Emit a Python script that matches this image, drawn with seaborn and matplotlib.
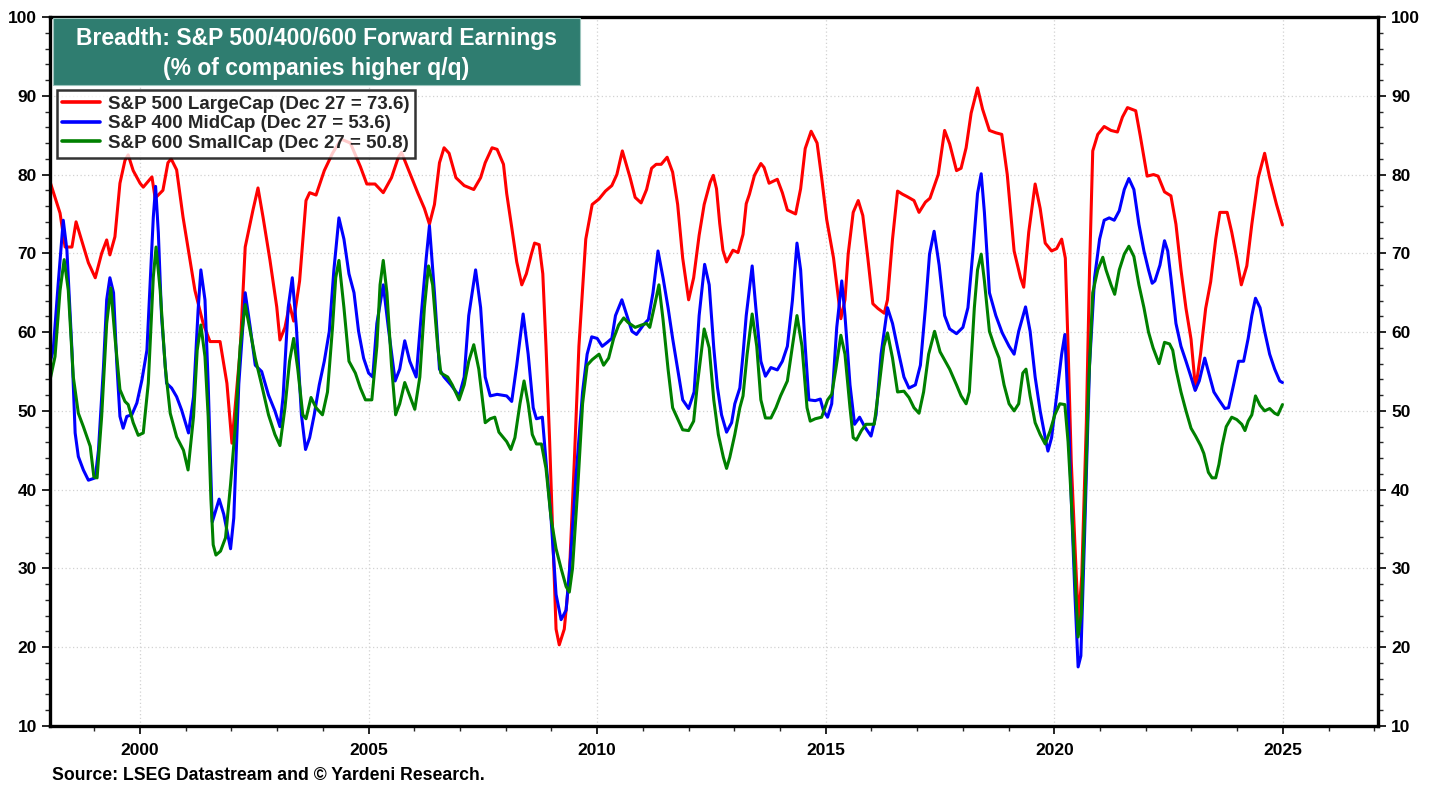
import numpy as np
import pandas as pd
import matplotlib
matplotlib.use("Agg")
import matplotlib.pyplot as plt
import seaborn as sns
from matplotlib.patches import Rectangle
from matplotlib.ticker import MultipleLocator

# ---------------- data ----------------
large_years = [1998.03, 1998.25, 1998.36, 1998.51, 1998.60, 1998.87, 1999.02, 1999.16, 1999.27, 1999.34,
               1999.45, 1999.56, 1999.67, 1999.74, 1999.85, 2000.00, 2000.07, 2000.26, 2000.33, 2000.50,
               2000.61, 2000.68, 2000.80, 2000.94, 2001.20, 2001.38, 2001.53, 2001.75, 2001.90, 2002.01,
               2002.19, 2002.30, 2002.47, 2002.58, 2002.69, 2002.84, 2002.99, 2003.06, 2003.17, 2003.27,
               2003.36, 2003.49, 2003.63, 2003.71, 2003.85, 2004.03, 2004.21, 2004.40, 2004.60, 2004.82,
               2004.96, 2005.14, 2005.32, 2005.50, 2005.65, 2005.72, 2005.94, 2006.08, 2006.22, 2006.33,
               2006.44, 2006.55, 2006.65, 2006.76, 2006.91, 2007.09, 2007.30, 2007.45, 2007.55, 2007.70,
               2007.81, 2007.95, 2008.02, 2008.13, 2008.24, 2008.35, 2008.45, 2008.56, 2008.63, 2008.73,
               2008.81, 2008.88, 2008.96, 2009.03, 2009.10, 2009.17, 2009.28, 2009.39, 2009.50, 2009.60,
               2009.75, 2009.89, 2010.04, 2010.18, 2010.32, 2010.43, 2010.55, 2010.72, 2010.83, 2010.96,
               2011.08, 2011.19, 2011.29, 2011.40, 2011.53, 2011.65, 2011.76, 2011.87, 2012.00, 2012.11,
               2012.23, 2012.34, 2012.47, 2012.54, 2012.61, 2012.68, 2012.75, 2012.83, 2012.97, 2013.08,
               2013.19, 2013.26, 2013.33, 2013.44, 2013.58, 2013.65, 2013.76, 2013.94, 2014.05, 2014.16,
               2014.34, 2014.45, 2014.55, 2014.68, 2014.81, 2014.91, 2015.02, 2015.17, 2015.27, 2015.33,
               2015.42, 2015.49, 2015.60, 2015.71, 2015.81, 2015.92, 2016.03, 2016.14, 2016.28, 2016.35,
               2016.46, 2016.57, 2016.68, 2016.78, 2016.93, 2017.04, 2017.18, 2017.28, 2017.46, 2017.60,
               2017.71, 2017.86, 2017.96, 2018.07, 2018.18, 2018.32, 2018.43, 2018.58, 2018.72, 2018.85,
               2018.97, 2019.12, 2019.26, 2019.33, 2019.44, 2019.58, 2019.69, 2019.80, 2019.94, 2020.05,
               2020.16, 2020.24, 2020.30, 2020.37, 2020.48, 2020.53, 2020.60, 2020.70, 2020.77, 2020.84,
               2020.95, 2021.09, 2021.24, 2021.38, 2021.49, 2021.60, 2021.78, 2021.88, 2022.03, 2022.17,
               2022.27, 2022.41, 2022.55, 2022.66, 2022.77, 2022.88, 2022.99, 2023.09, 2023.20, 2023.31,
               2023.42, 2023.53, 2023.62, 2023.78, 2023.88, 2023.99, 2024.09, 2024.21, 2024.32, 2024.46,
               2024.60, 2024.71, 2024.86, 2024.99]
large_vals = [79.1, 75.1, 70.8, 70.8, 74.0, 68.8, 66.9, 70.0, 71.7, 69.8,
              72.1, 78.9, 81.8, 82.5, 80.5, 78.9, 78.4, 79.7, 77.0, 78.0,
              81.5, 82.0, 80.6, 74.6, 65.3, 61.1, 58.8, 58.8, 53.5, 45.9,
              57.7, 70.8, 75.5, 78.3, 74.6, 69.2, 63.2, 59.0, 60.6, 63.5,
              61.4, 66.5, 76.7, 77.7, 77.4, 80.5, 82.7, 84.5, 84.0, 81.0,
              78.8, 78.8, 77.7, 79.6, 82.2, 82.8, 79.6, 77.6, 75.7, 73.7,
              76.2, 81.5, 83.4, 82.7, 79.6, 78.6, 78.1, 79.6, 81.5, 83.4,
              83.2, 81.3, 77.6, 73.3, 68.9, 66.0, 67.4, 69.9, 71.3, 71.1,
              67.4, 58.2, 46.1, 33.9, 22.3, 20.3, 22.3, 29.1, 43.7, 58.2,
              71.8, 76.2, 76.9, 77.9, 78.6, 80.0, 83.0, 79.6, 77.1, 76.4,
              78.1, 80.8, 81.3, 81.3, 82.2, 80.3, 76.2, 69.4, 64.1, 66.9,
              72.3, 76.2, 79.0, 79.9, 78.2, 73.8, 70.4, 68.9, 70.4, 70.1,
              72.4, 76.3, 77.5, 79.9, 81.4, 80.9, 78.9, 79.4, 77.7, 75.5,
              75.0, 78.2, 83.3, 85.5, 84.0, 79.6, 74.3, 69.4, 64.6, 61.7,
              64.1, 69.9, 75.2, 76.7, 74.8, 69.4, 63.6, 63.0, 62.4, 64.1,
              71.8, 77.9, 77.5, 77.2, 76.7, 75.2, 76.5, 77.0, 80.0, 85.6,
              83.9, 80.5, 80.8, 83.4, 87.8, 91.0, 88.3, 85.6, 85.3, 85.1,
              80.0, 70.3, 66.9, 65.7, 72.7, 78.8, 75.7, 71.3, 70.3, 70.6,
              71.8, 69.4, 58.2, 43.6, 29.1, 23.3, 29.1, 48.5, 67.9, 83.0,
              85.1, 86.1, 85.6, 85.4, 87.3, 88.5, 88.1, 84.9, 79.8, 80.0,
              79.8, 77.8, 77.3, 73.7, 67.9, 63.0, 59.1, 52.7, 57.3, 63.0,
              66.4, 71.8, 75.2, 75.2, 72.7, 69.4, 66.0, 68.4, 73.7, 79.6,
              82.7, 79.6, 76.2, 73.6]

mid_years = [1998.03, 1998.10, 1998.21, 1998.32, 1998.40, 1998.51, 1998.58, 1998.65, 1998.76, 1998.87,
             1999.02, 1999.09, 1999.20, 1999.27, 1999.34, 1999.42, 1999.49, 1999.56, 1999.63, 1999.71,
             1999.82, 1999.93, 2000.04, 2000.15, 2000.22, 2000.29, 2000.34, 2000.40, 2000.47, 2000.58,
             2000.69, 2000.80, 2000.91, 2001.06, 2001.17, 2001.27, 2001.33, 2001.42, 2001.49, 2001.58,
             2001.73, 2001.83, 2001.98, 2002.05, 2002.16, 2002.30, 2002.41, 2002.52, 2002.66, 2002.81,
             2002.95, 2003.06, 2003.13, 2003.24, 2003.33, 2003.42, 2003.53, 2003.62, 2003.71, 2003.81,
             2003.92, 2004.03, 2004.14, 2004.24, 2004.35, 2004.46, 2004.57, 2004.68, 2004.78, 2004.89,
             2005.00, 2005.09, 2005.18, 2005.32, 2005.43, 2005.58, 2005.68, 2005.79, 2005.90, 2006.04,
             2006.15, 2006.26, 2006.33, 2006.44, 2006.55, 2006.65, 2006.80, 2006.98, 2007.09, 2007.19,
             2007.34, 2007.45, 2007.55, 2007.66, 2007.81, 2008.02, 2008.13, 2008.24, 2008.38, 2008.49,
             2008.60, 2008.67, 2008.80, 2008.88, 2008.99, 2009.10, 2009.21, 2009.32, 2009.42, 2009.53,
             2009.68, 2009.78, 2009.88, 2010.00, 2010.11, 2010.22, 2010.32, 2010.40, 2010.54, 2010.65,
             2010.76, 2010.86, 2011.01, 2011.12, 2011.22, 2011.33, 2011.44, 2011.55, 2011.65, 2011.76,
             2011.87, 2012.00, 2012.12, 2012.23, 2012.35, 2012.45, 2012.55, 2012.63, 2012.72, 2012.83,
             2012.94, 2013.01, 2013.12, 2013.19, 2013.26, 2013.39, 2013.47, 2013.58, 2013.68, 2013.80,
             2013.94, 2014.05, 2014.16, 2014.27, 2014.37, 2014.45, 2014.55, 2014.63, 2014.77, 2014.88,
             2014.95, 2015.04, 2015.13, 2015.24, 2015.35, 2015.42, 2015.53, 2015.63, 2015.74, 2015.85,
             2015.99, 2016.10, 2016.21, 2016.35, 2016.46, 2016.60, 2016.71, 2016.82, 2016.96, 2017.07,
             2017.18, 2017.27, 2017.37, 2017.48, 2017.60, 2017.71, 2017.86, 2018.00, 2018.11, 2018.22,
             2018.32, 2018.40, 2018.47, 2018.58, 2018.72, 2018.86, 2019.01, 2019.12, 2019.22, 2019.37,
             2019.47, 2019.58, 2019.69, 2019.80, 2019.86, 2019.94, 2020.05, 2020.16, 2020.23, 2020.30,
             2020.37, 2020.45, 2020.52, 2020.58, 2020.66, 2020.77, 2020.88, 2020.99, 2021.09, 2021.20,
             2021.31, 2021.42, 2021.53, 2021.63, 2021.74, 2021.85, 2021.96, 2022.06, 2022.14, 2022.20,
             2022.31, 2022.41, 2022.48, 2022.55, 2022.66, 2022.77, 2022.88, 2022.99, 2023.08, 2023.17,
             2023.29, 2023.37, 2023.49, 2023.60, 2023.73, 2023.81, 2023.92, 2024.03, 2024.14, 2024.24,
             2024.32, 2024.40, 2024.50, 2024.60, 2024.71, 2024.82, 2024.93, 2024.99]
mid_vals = [56.1, 57.7, 66.2, 74.2, 70.4, 57.7, 47.2, 44.2, 42.5, 41.2,
            41.5, 45.0, 55.6, 64.1, 66.9, 65.0, 56.1, 49.3, 47.8, 49.3,
            49.5, 51.0, 53.9, 57.7, 66.2, 74.6, 78.5, 72.6, 62.0, 53.5,
            52.9, 51.8, 50.1, 47.2, 51.8, 62.8, 67.9, 64.1, 53.5, 35.9,
            38.8, 36.9, 32.5, 36.4, 53.4, 65.0, 60.6, 55.8, 55.0, 52.0,
            50.0, 48.0, 51.9, 63.1, 66.9, 60.6, 49.5, 45.1, 46.6, 49.5,
            53.3, 56.3, 60.1, 67.9, 74.5, 71.8, 67.4, 65.0, 60.1, 56.7,
            54.8, 54.3, 61.1, 66.0, 60.6, 53.8, 55.3, 58.9, 56.3, 54.3,
            62.1, 69.4, 73.5, 65.0, 55.3, 54.3, 53.3, 51.9, 54.3, 62.1,
            67.9, 63.1, 54.3, 51.9, 52.1, 51.9, 51.2, 55.8, 62.3, 57.2,
            50.4, 49.0, 49.2, 43.6, 36.4, 26.7, 23.5, 24.7, 31.6, 41.2,
            52.4, 57.2, 59.4, 59.2, 58.2, 58.7, 59.2, 62.1, 64.1, 62.1,
            60.1, 59.7, 60.9, 61.6, 65.0, 70.3, 66.9, 63.1, 59.2, 55.3,
            51.4, 50.3, 52.4, 62.1, 68.6, 66.0, 58.0, 53.0, 49.5, 47.3,
            48.5, 50.9, 52.9, 57.2, 62.1, 68.4, 63.1, 56.3, 54.4, 55.5,
            55.2, 56.3, 58.2, 64.0, 71.3, 67.9, 58.2, 51.4, 51.3, 51.5,
            50.0, 49.2, 50.9, 60.6, 66.5, 62.1, 53.3, 48.3, 49.2, 48.0,
            46.8, 49.5, 57.2, 63.1, 61.1, 57.2, 54.3, 52.9, 53.3, 55.8,
            63.1, 69.9, 72.8, 68.5, 62.1, 60.4, 59.8, 60.6, 63.1, 70.3,
            77.6, 80.1, 75.2, 65.0, 62.1, 59.9, 58.2, 57.2, 60.1, 63.2,
            60.1, 54.3, 50.0, 46.6, 44.9, 46.6, 51.9, 57.2, 59.7, 50.9,
            38.8, 26.7, 17.5, 18.9, 33.9, 55.8, 66.9, 71.8, 74.2, 74.5,
            74.2, 75.4, 78.1, 79.5, 78.1, 73.7, 70.3, 67.9, 66.2, 66.5,
            68.5, 71.6, 70.3, 66.9, 61.1, 58.2, 56.3, 54.3, 52.6, 53.8,
            56.7, 55.0, 52.4, 51.4, 50.3, 50.4, 53.3, 56.3, 56.3, 59.2,
            62.1, 64.3, 63.1, 60.1, 57.2, 55.3, 53.8, 53.6]

small_years = [1998.03, 1998.14, 1998.25, 1998.34, 1998.43, 1998.54, 1998.65, 1998.76, 1998.91, 1998.99,
               1999.06, 1999.16, 1999.27, 1999.36, 1999.45, 1999.56, 1999.67, 1999.74, 1999.85, 1999.96,
               2000.07, 2000.18, 2000.29, 2000.35, 2000.44, 2000.55, 2000.66, 2000.80, 2000.95, 2001.05,
               2001.17, 2001.25, 2001.33, 2001.42, 2001.49, 2001.55, 2001.60, 2001.66, 2001.76, 2001.87,
               2001.98, 2002.09, 2002.19, 2002.30, 2002.41, 2002.52, 2002.66, 2002.81, 2002.95, 2003.06,
               2003.17, 2003.27, 2003.36, 2003.45, 2003.56, 2003.63, 2003.74, 2003.85, 2003.99, 2004.10,
               2004.21, 2004.28, 2004.35, 2004.46, 2004.57, 2004.71, 2004.82, 2004.93, 2005.07, 2005.18,
               2005.25, 2005.32, 2005.40, 2005.50, 2005.59, 2005.68, 2005.79, 2005.90, 2006.01, 2006.12,
               2006.22, 2006.31, 2006.40, 2006.51, 2006.58, 2006.73, 2006.83, 2006.98, 2007.09, 2007.19,
               2007.30, 2007.41, 2007.55, 2007.66, 2007.76, 2007.85, 2008.02, 2008.11, 2008.20, 2008.31,
               2008.40, 2008.49, 2008.58, 2008.67, 2008.78, 2008.88, 2008.99, 2009.10, 2009.21, 2009.32,
               2009.39, 2009.46, 2009.57, 2009.68, 2009.78, 2009.89, 2010.04, 2010.14, 2010.25, 2010.36,
               2010.47, 2010.58, 2010.68, 2010.83, 2010.97, 2011.08, 2011.15, 2011.26, 2011.35, 2011.44,
               2011.55, 2011.65, 2011.76, 2011.87, 2012.00, 2012.11, 2012.19, 2012.34, 2012.45, 2012.55,
               2012.65, 2012.76, 2012.83, 2012.90, 2013.01, 2013.12, 2013.19, 2013.28, 2013.39, 2013.49,
               2013.58, 2013.68, 2013.80, 2013.91, 2014.01, 2014.16, 2014.27, 2014.37, 2014.48, 2014.59,
               2014.66, 2014.77, 2014.91, 2015.04, 2015.13, 2015.22, 2015.33, 2015.42, 2015.53, 2015.60,
               2015.67, 2015.78, 2015.88, 2016.06, 2016.17, 2016.27, 2016.35, 2016.46, 2016.57, 2016.71,
               2016.82, 2016.93, 2017.04, 2017.14, 2017.25, 2017.38, 2017.50, 2017.71, 2017.86, 2017.96,
               2018.07, 2018.14, 2018.25, 2018.32, 2018.40, 2018.47, 2018.58, 2018.69, 2018.79, 2018.90,
               2019.01, 2019.12, 2019.22, 2019.31, 2019.38, 2019.47, 2019.58, 2019.69, 2019.80, 2019.91,
               2020.01, 2020.12, 2020.23, 2020.30, 2020.37, 2020.45, 2020.52, 2020.59, 2020.66, 2020.75,
               2020.84, 2020.95, 2021.06, 2021.13, 2021.24, 2021.32, 2021.42, 2021.53, 2021.63, 2021.74,
               2021.85, 2021.96, 2022.06, 2022.16, 2022.29, 2022.41, 2022.52, 2022.59, 2022.66, 2022.77,
               2022.88, 2022.99, 2023.09, 2023.20, 2023.27, 2023.37, 2023.45, 2023.53, 2023.60, 2023.67,
               2023.76, 2023.88, 2023.99, 2024.10, 2024.17, 2024.24, 2024.32, 2024.40, 2024.50, 2024.60,
               2024.71, 2024.82, 2024.89, 2024.99]
small_vals = [53.9, 56.9, 65.3, 69.2, 65.3, 54.3, 49.7, 48.0, 45.5, 41.6,
              41.5, 49.3, 61.1, 65.6, 59.4, 52.7, 51.2, 50.8, 48.5, 46.9,
              47.2, 53.5, 67.0, 70.8, 65.3, 55.6, 49.7, 46.7, 45.0, 42.5,
              49.3, 57.7, 60.9, 56.9, 49.3, 38.8, 33.0, 31.7, 32.2, 33.9,
              40.7, 48.5, 58.2, 63.5, 60.1, 56.7, 53.3, 49.5, 47.0, 45.6,
              50.4, 56.3, 59.2, 55.3, 49.5, 49.0, 51.7, 50.4, 49.5, 52.4,
              60.6, 66.9, 69.1, 63.1, 56.3, 54.8, 52.9, 51.4, 51.4, 58.2,
              66.0, 69.1, 65.0, 55.8, 49.5, 50.9, 53.6, 51.9, 50.2, 54.3,
              63.1, 68.4, 66.0, 58.2, 54.8, 54.3, 53.3, 51.4, 53.3, 56.3,
              58.4, 55.3, 48.5, 49.0, 49.2, 47.3, 46.1, 45.1, 46.6, 50.9,
              53.8, 50.9, 47.0, 45.8, 45.8, 42.7, 36.4, 32.5, 30.0, 27.7,
              27.0, 30.0, 39.8, 50.9, 55.8, 56.5, 57.2, 55.8, 56.7, 59.2,
              60.9, 61.8, 61.2, 60.6, 60.9, 61.1, 60.6, 63.5, 66.0, 61.6,
              55.3, 50.4, 49.0, 47.6, 47.5, 48.7, 53.3, 60.4, 58.0, 51.4,
              47.0, 44.1, 42.7, 44.1, 47.0, 50.4, 51.9, 57.2, 62.3, 58.2,
              51.4, 49.1, 49.1, 50.4, 51.9, 53.8, 58.2, 62.1, 58.2, 50.4,
              48.7, 49.0, 49.2, 51.4, 52.1, 55.3, 59.6, 57.2, 50.4, 46.6,
              46.3, 47.5, 48.3, 48.3, 53.3, 58.2, 59.9, 56.7, 52.4, 52.5,
              51.7, 50.4, 49.7, 52.4, 57.2, 60.1, 57.5, 55.3, 53.3, 51.9,
              50.9, 52.4, 63.1, 67.9, 69.9, 66.5, 60.1, 58.2, 56.7, 53.3,
              50.9, 50.0, 50.9, 54.8, 55.3, 51.9, 48.5, 47.0, 45.8, 47.5,
              49.5, 50.9, 50.8, 46.1, 38.8, 29.1, 21.3, 24.2, 36.4, 53.3,
              65.0, 67.9, 69.5, 67.9, 66.0, 64.8, 67.9, 69.9, 70.9, 69.6,
              66.0, 63.1, 60.0, 58.0, 56.0, 58.7, 58.5, 57.7, 55.3, 52.4,
              50.0, 47.8, 46.8, 45.6, 44.6, 42.2, 41.5, 41.5, 43.2, 45.6,
              48.0, 49.2, 48.9, 48.3, 47.5, 48.7, 49.5, 51.9, 50.7, 50.0,
              50.3, 49.7, 49.5, 50.8]

series_labels = ["S&P 500 LargeCap (Dec 27 = 73.6)",
                 "S&P 400 MidCap (Dec 27 = 53.6)",
                 "S&P 600 SmallCap (Dec 27 = 50.8)"]
series_colors = ["#FF0000", "#0000FF", "#008000"]
title_lines = ["Breadth: S&P 500/400/600 Forward Earnings", "(% of companies higher q/q)"]
source_text = "Source: LSEG Datastream and \u00a9 Yardeni Research."
x_tick_years = [2000, 2005, 2010, 2015, 2020, 2025]

# ---------------- build frame ----------------
df = pd.concat([
    pd.DataFrame({"year": large_years, "value": large_vals, "series": series_labels[0]}),
    pd.DataFrame({"year": mid_years, "value": mid_vals, "series": series_labels[1]}),
    pd.DataFrame({"year": small_years, "value": small_vals, "series": series_labels[2]}),
], ignore_index=True)

# ---------------- style ----------------
sns.set_style("white")
plt.rcParams["font.family"] = ["Liberation Sans", "DejaVu Sans"]
plt.rcParams["font.weight"] = "bold"

fig = plt.figure(figsize=(14.38, 7.87), dpi=100)
ax = fig.add_axes([50 / 1438, 1 - 726 / 787, 1328 / 1438, 709 / 787])

sns.lineplot(data=df, x="year", y="value", hue="series",
             palette=dict(zip(series_labels, series_colors)),
             hue_order=series_labels, estimator=None, linewidth=2.2, ax=ax)

ax.set_xlim(1998.03, 2027.08)
ax.set_ylim(10, 100)
ax.set_xlabel("")
ax.set_ylabel("")

ax.xaxis.set_minor_locator(MultipleLocator(1))
ax.yaxis.set_major_locator(MultipleLocator(10))
ax.yaxis.set_minor_locator(MultipleLocator(2))
ax.set_xticks(x_tick_years)
ax.set_xticklabels([str(y) for y in x_tick_years])

ax.tick_params(axis="both", which="major", direction="out", length=6, width=1.2,
               labelsize=12.5, colors="black")
ax.tick_params(axis="both", which="minor", direction="out", length=3.5, width=1.0)
ax.tick_params(axis="y", which="both", left=True, right=True, labelleft=True, labelright=True)
ax.tick_params(axis="x", which="both", bottom=True, top=False, pad=6)
for lab in ax.get_xticklabels() + ax.get_yticklabels():
    lab.set_fontweight("bold")
for t in ax.yaxis.get_major_ticks():
    t.label2.set_fontweight("bold")

ax.grid(True, which="major", color="#d2d2d2", linestyle=(0, (1, 2)), linewidth=0.9)
for sp in ax.spines.values():
    sp.set_visible(True)
    sp.set_color("black")
    sp.set_linewidth(2.4)

# ---------------- legend ----------------
handles, labels = ax.get_legend_handles_labels()
leg = ax.legend(handles, labels, loc="upper left", bbox_to_anchor=(0.005, 0.897),
                borderaxespad=0, frameon=True, fancybox=False,
                handlelength=2.0, handletextpad=0.45, labelspacing=0.13,
                borderpad=0.3, prop={"weight": "bold", "size": 13.5})
leg.get_frame().set_edgecolor("black")
leg.get_frame().set_linewidth(1.8)
for ln in leg.get_lines():
    ln.set_linewidth(2.6)
leg.set_zorder(5)

# ---------------- title box ----------------
x0 = (53 - 50) / 1328
x1 = (580 - 50) / 1328
y0 = (726 - 85) / 709
y1 = (726 - 18) / 709
ax.add_patch(Rectangle((x0, y0), x1 - x0, y1 - y0, transform=ax.transAxes,
                       facecolor="#2F7D70", edgecolor="#9cc5bd", linewidth=0.8,
                       zorder=6, clip_on=False))
xc = (x0 + x1) / 2
ax.text(xc, (726 - 38) / 709, title_lines[0], transform=ax.transAxes, ha="center", va="center",
        color="white", fontsize=16.5, fontweight="bold", zorder=7)
ax.text(xc, (726 - 69) / 709, title_lines[1], transform=ax.transAxes, ha="center", va="center",
        color="white", fontsize=16.5, fontweight="bold", zorder=7)

# ---------------- source ----------------
fig.text(52 / 1438, 1 - 775 / 787, source_text, ha="left", va="center",
         fontsize=12.7, fontweight="bold", color="black")

fig.savefig("out.png", dpi=100)
